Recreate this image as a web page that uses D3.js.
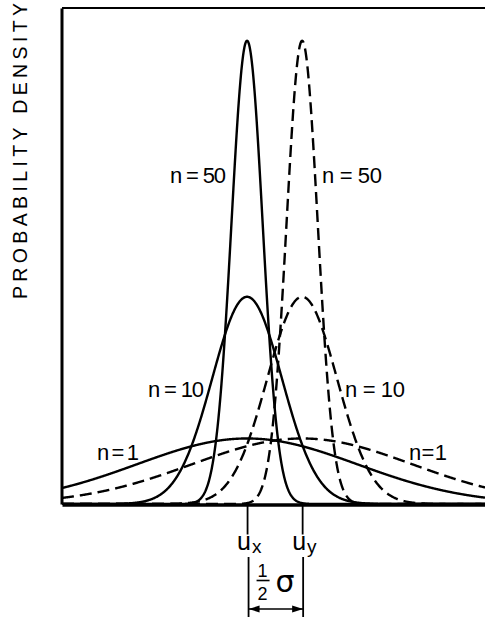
<!DOCTYPE html>
<html>
<head>
<meta charset="utf-8">
<script src="https://cdn.jsdelivr.net/npm/d3@7"></script>
<style>
  body { margin: 0; background: #fff; }
  text { font-family: "Liberation Sans", Arial, sans-serif; fill: #000; }
</style>
</head>
<body>
<script>
// sample sizes of the three curve pairs
const sampleSizes = [1, 10, 50];
// means in units of sigma: u_x (solid) and u_y (dashed), half a sigma apart
const means = [0, 0.5];
const meanNames = ["x", "y"];
const meanDash = [null, "12,6"];
// curve labels
const labelText = ["n = 50", "n = 50", "n = 10", "n = 10", "n = 1", "n = 1"];
const yTitle = "PROBABILITY DENSITY";

// layout (pixels), kept apart from the data
const labelPos = [
  [170, 183, 56], [322, 183, 60],
  [148, 397, 56], [345, 397, 60],
  [97, 460, 42], [409, 460, 38]
];

const w = 485, h = 617;
const svg = d3.select("body").append("svg")
  .attr("width", w)
  .attr("height", h);

// x in sigma units, y is density
const x = d3.scaleLinear().domain([-1.68, 2.16]).range([62, 485]);
const y = d3.scaleLinear().domain([0, 3.02]).range([504, 8]);

// density of the sample mean with standard error sigma/sqrt(n)
const density = (z, mu, n) => Math.sqrt(n) / Math.sqrt(2 * Math.PI) * Math.exp(-n * (z - mu) * (z - mu) / 2);
const grid = d3.range(-1.68, 2.1601, 0.004);

const line = d3.line()
  .x(d => x(d[0]))
  .y(d => y(d[1]))
  .curve(d3.curveLinear);

svg.append("clipPath").attr("id", "plot")
  .append("rect").attr("x", 62).attr("y", 8).attr("width", 423).attr("height", 497);

const curves = svg.append("g").attr("clip-path", "url(#plot)");
means.forEach((mu, i) => {
  sampleSizes.forEach(n => {
    curves.append("path")
      .datum(grid.map(z => [z, density(z, mu, n)]))
      .attr("d", line)
      .attr("fill", "none")
      .attr("stroke", "#000")
      .attr("stroke-width", 2.4)
      .attr("stroke-dasharray", meanDash[i]);
  });
});

// top frame line
svg.append("line")
  .attr("x1", x.range()[0]).attr("x2", x.range()[1])
  .attr("y1", y(3.02)).attr("y2", y(3.02))
  .attr("stroke", "#000").attr("stroke-width", 2);

// left axis
const yAxis = svg.append("g")
  .attr("transform", "translate(61.5,0)")
  .call(d3.axisLeft(y).ticks(0).tickSizeOuter(0));
yAxis.select(".domain").attr("stroke-width", 3);

// bottom axis with the two mean ticks
const xAxis = svg.append("g")
  .attr("transform", "translate(0,504.5)")
  .call(d3.axisBottom(x).tickValues(means).tickSize(30).tickSizeOuter(0).tickFormat(""));
xAxis.select(".domain").attr("stroke-width", 3.5);
xAxis.selectAll(".tick line").attr("stroke-width", 1.8);

// u_x and u_y labels
means.forEach((mu, i) => {
  const t = svg.append("text")
    .attr("x", x(mu) - 10)
    .attr("y", 550);
  t.append("tspan").attr("font-size", 25).text("u");
  t.append("tspan").attr("font-size", 19).attr("dy", 3).attr("dx", 1).text(meanNames[i]);
});

// half-sigma dimension
const bx0 = x(means[0]) + 1.5, bx1 = x(means[1]) + 1;
[bx0, bx1].forEach(bx => {
  svg.append("line")
    .attr("x1", bx).attr("x2", bx)
    .attr("y1", 557).attr("y2", 617)
    .attr("stroke", "#000").attr("stroke-width", 1.8);
});
svg.append("line")
  .attr("x1", bx0).attr("x2", bx1)
  .attr("y1", 609).attr("y2", 609)
  .attr("stroke", "#000").attr("stroke-width", 1.6);
svg.append("path")
  .attr("d", `M${bx0},609 l11,-3.5 l0,7 Z M${bx1},609 l-11,-3.5 l0,7 Z`)
  .attr("fill", "#000");
svg.append("text")
  .attr("x", bx0 + 14).attr("y", 577)
  .attr("text-anchor", "middle")
  .attr("font-size", 18)
  .text("1");
svg.append("line")
  .attr("x1", bx0 + 8).attr("x2", bx0 + 21)
  .attr("y1", 580.5).attr("y2", 580.5)
  .attr("stroke", "#000").attr("stroke-width", 1.6);
svg.append("text")
  .attr("x", bx0 + 14).attr("y", 600)
  .attr("text-anchor", "middle")
  .attr("font-size", 18)
  .text("2");
svg.append("text")
  .attr("x", bx0 + 27).attr("y", 592)
  .attr("font-size", 30)
  .style("font-family", "DejaVu Sans")
  .text("σ");

// curve labels
svg.selectAll(".nlabel")
  .data(labelText)
  .enter()
  .append("text")
  .attr("class", "nlabel")
  .attr("x", (d, i) => labelPos[i][0])
  .attr("y", (d, i) => labelPos[i][1])
  .attr("textLength", (d, i) => labelPos[i][2])
  .attr("lengthAdjust", "spacing")
  .attr("font-size", 22)
  .text(d => d);

// y title
svg.append("text")
  .attr("transform", "translate(27,151) rotate(-90)")
  .attr("text-anchor", "middle")
  .attr("font-size", 19.5)
  .attr("textLength", 296)
  .attr("lengthAdjust", "spacing")
  .text(yTitle);
</script>
</body>
</html>
